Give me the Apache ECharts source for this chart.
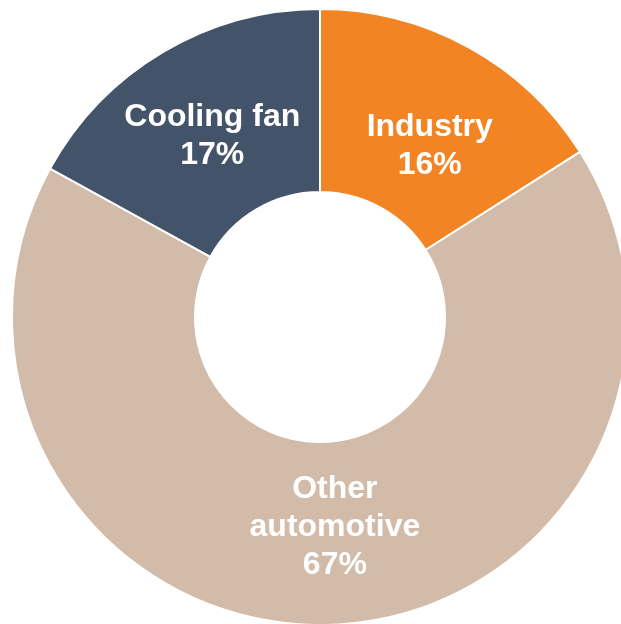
<!DOCTYPE html>
<html>
<head>
<meta charset="utf-8">
<script src="https://cdn.jsdelivr.net/npm/echarts@6/dist/echarts.min.js"></script>
<style>
  html, body { margin: 0; padding: 0; background: #ffffff; }
  #chart { width: 621px; height: 624px; }
</style>
</head>
<body>
<div id="chart"></div>
<script>
// segment names and shares (%), clockwise from 12 o'clock
var segNames = ['Industry', 'Other\nautomotive', 'Cooling fan'];
var segValues = [16, 67, 17];
var segColors = ['#F28424', '#D3BBA9', '#435369'];

var chart = echarts.init(document.getElementById('chart'));

// nudge labels a bit from the default mid-ring spot
var labelShift = [[4, 22], [8, -9], [4, 8]];

var pieData = [];
for (var i = 0; i < segNames.length; i++) {
  pieData.push({
    name: segNames[i],
    value: segValues[i],
    itemStyle: { color: segColors[i] },
    label: { offset: labelShift[i] }
  });
}

var option = {
  animation: false,
  series: [{
    type: 'pie',
    center: [320, 317],
    radius: [125, 308],
    startAngle: 90,
    clockwise: true,
    avoidLabelOverlap: false,
    itemStyle: {
      borderColor: '#ffffff',
      borderWidth: 2
    },
    label: {
      show: true,
      position: 'inside',
      color: '#ffffff',
      fontFamily: 'Liberation Sans',
      fontWeight: 'bold',
      fontSize: 32,
      lineHeight: 38,
      align: 'center',
      formatter: function (p) {
        return p.name + '\n' + p.value + '%';
      }
    },
    labelLine: { show: false },
    emphasis: { disabled: true },
    data: pieData
  }]
};

chart.setOption(option);
window.addEventListener('resize', function () {
  chart.resize();
});
</script>
</body>
</html>
